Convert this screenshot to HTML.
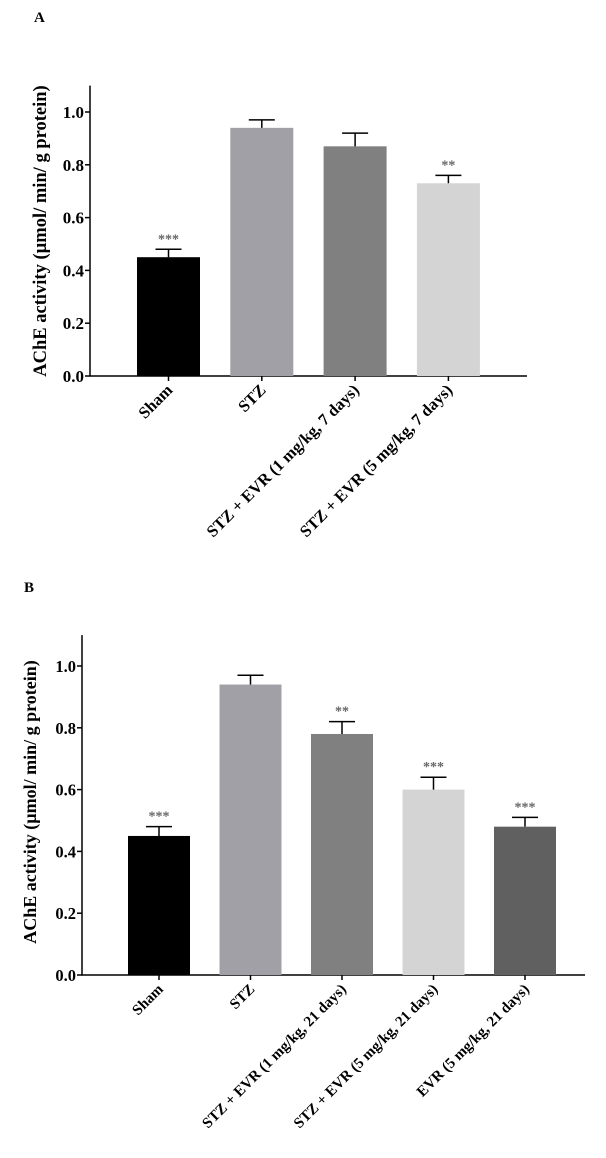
<!DOCTYPE html>
<html><head><meta charset="utf-8"><style>
body{margin:0;background:#fff;}
svg, svg text{font-family:"Liberation Serif","Times New Roman",Times,serif;font-weight:bold;}
</style></head><body>
<svg id="chart" width="606" height="1153" viewBox="0 0 606 1153"></svg>
<script>
const catsA=["Sham","STZ","STZ + EVR (1 mg/kg, 7 days)","STZ + EVR (5 mg/kg, 7 days)"];
const valsA=[0.45,0.94,0.87,0.73];
const errsA=[0.03,0.03,0.05,0.03];
const starsA=["***","","","**"];
const catsB=["Sham","STZ","STZ + EVR (1 mg/kg, 21 days)","STZ + EVR (5 mg/kg, 21 days)","EVR (5 mg/kg, 21 days)"];
const valsB=[0.45,0.94,0.78,0.60,0.48];
const errsB=[0.03,0.03,0.04,0.04,0.03];
const starsB=["***","","**","***","***"];
const ticks=[0,0.2,0.4,0.6,0.8,1.0];
const tickLabels=["0.0","0.2","0.4","0.6","0.8","1.0"];
const colors=["#000000","#a0a0a6","#808080","#d4d4d4","#606060"];
const svg=document.getElementById('chart');
const NS="http://www.w3.org/2000/svg";
function mk(t,a,p){const e=document.createElementNS(NS,t);for(const k in a)e.setAttribute(k,a[k]);(p||svg).appendChild(e);return e;}
function panel(o){
 const g=mk('g',{});
 
 
 const y=v=>o.y0-v*o.ppu;
 const x=i=>o.bx0+i*o.step;
 const L=mk('text',{x:o.lx,y:o.ly,'font-size':15},g);L.textContent=o.id;
 
 
 const ax=mk('path',{d:`M${o.ax} ${y(1.1)}V${o.y0}H${o.axEnd}`,stroke:'#000','stroke-width':1.5,fill:'none'},g);
 
 
 ticks.forEach((t,i)=>{
  mk('line',{x1:o.ax-5,x2:o.ax,y1:y(t),y2:y(t),stroke:'#000','stroke-width':1.5},g);
  const tl=mk('text',{x:o.ax-6,y:y(t)+6,'text-anchor':'end','font-size':o.tkfs},g);tl.textContent=tickLabels[i];
  
  
 });
 const yt=mk('text',{transform:`translate(${o.tx},${o.ty}) rotate(-90)`,'text-anchor':'middle','font-size':o.tfs},g);
 yt.textContent="AChE activity (µmol/ min/ g protein)";
 
 
 o.cats.forEach((c,i)=>{
  const bx=x(i),cx=bx+o.bw/2;
  const b=mk('rect',{x:bx,y:y(o.vals[i]),width:o.bw,height:o.vals[i]*o.ppu,fill:colors[i]},g);
  
  
  const top=y(o.vals[i]+o.errs[i]);
  const e=mk('path',{d:`M${cx} ${y(o.vals[i])}V${top}M${cx-13} ${top}H${cx+13}`,stroke:'#000','stroke-width':1.5,fill:'none'},g);
  
  
  if(o.stars[i]){const s=mk('text',{x:cx,y:top-6,'text-anchor':'middle','font-size':14,fill:'#666'},g);s.textContent=o.stars[i];
   
   }
  mk('line',{x1:cx,x2:cx,y1:o.y0,y2:o.y0+5,stroke:'#000','stroke-width':1.5},g);
  const xl=mk('text',{transform:`translate(${cx+5},${o.y0+15}) rotate(-45)`,'text-anchor':'end','font-size':o.xfs},g);xl.textContent=c;
  
  
 });
}
panel({id:'A',cats:catsA,vals:valsA,errs:errsA,stars:starsA,y0:376,ppu:264,ax:90,axEnd:527,bx0:137,step:93.3,bw:63,lx:34,ly:22,tx:46,ty:231,tfs:18.5,tkfs:17,xfs:16.5});
panel({id:'B',cats:catsB,vals:valsB,errs:errsB,stars:starsB,y0:975,ppu:309,ax:82,axEnd:585,bx0:128,step:91.5,bw:62,lx:24,ly:592,tx:36,ty:802,tfs:18,tkfs:16.5,xfs:15});
</script>
</body></html>
